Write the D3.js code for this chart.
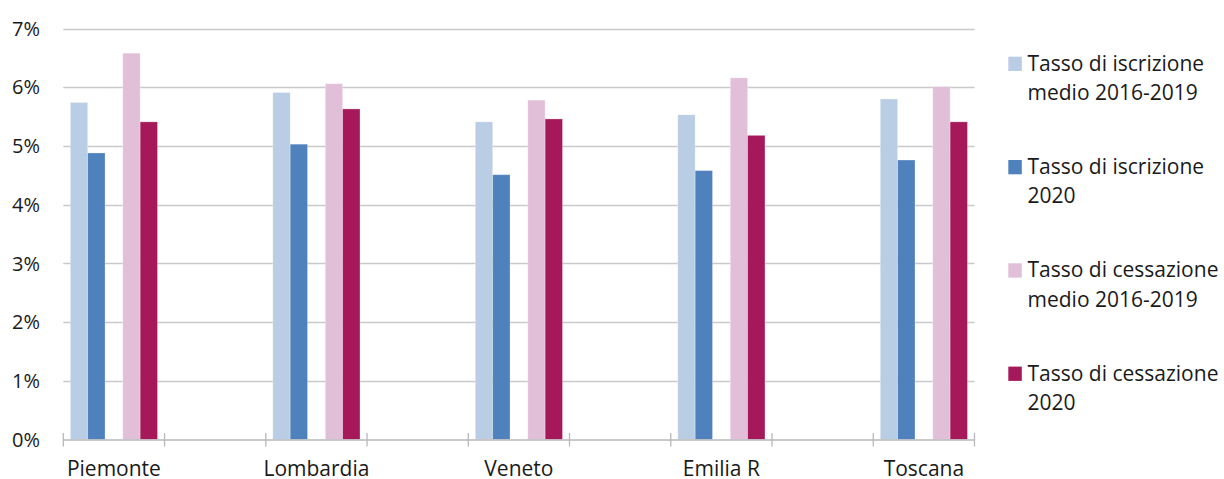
<!DOCTYPE html>
<html>
<head>
<meta charset="utf-8">
<script src="https://cdn.jsdelivr.net/npm/d3@7"></script>
<style>
  html, body { margin: 0; padding: 0; background: #fff; }
  svg { display: block; }
  text { font-family: "Open Sans", "Noto Sans", sans-serif; fill: #1a1a1a; }
</style>
</head>
<body>
<svg id="chart" width="1224" height="479"></svg>
<script>
const categories = ["Piemonte", "Lombardia", "Veneto", "Emilia R", "Toscana"];
const seriesNames = [
  ["Tasso di iscrizione", "medio 2016-2019"],
  ["Tasso di iscrizione", "2020"],
  ["Tasso di cessazione", "medio 2016-2019"],
  ["Tasso di cessazione", "2020"]
];
const iscrizioneMedio = [5.74, 5.91, 5.41, 5.53, 5.80];
const iscrizione2020  = [4.88, 5.03, 4.51, 4.58, 4.76];
const cessazioneMedio = [6.58, 6.06, 5.78, 6.16, 6.01];
const cessazione2020  = [5.41, 5.63, 5.46, 5.18, 5.41];
const yTicks = [0, 1, 2, 3, 4, 5, 6, 7];
const colors = ["#b9cde5", "#4f81bd", "#e2bfd9", "#a5195a"];

const seriesValues = [iscrizioneMedio, iscrizione2020, cessazioneMedio, cessazione2020];

const svg = d3.select("#chart");
const plotLeft = 63.3, plotRight = 974.5, plotTop = 28.5, plotBottom = 439.5;

const y = d3.scaleLinear().domain([0, 7]).range([plotBottom, plotTop]);

// 9 slots on the category axis, categories occupy every other slot
const slotKeys = d3.range(categories.length * 2 - 1);
const xSlot = d3.scaleBand().domain(slotKeys).range([plotLeft, plotRight]).padding(0);
const catSlot = (i) => i * 2;

// Two groups (iscrizione, cessazione) within a slot, two bars per group
const xGroup = d3.scaleBand().domain([0, 1]).range([0, xSlot.bandwidth()])
  .paddingInner(0.338).paddingOuter(0.134);
const xBar = d3.scaleBand().domain([0, 1]).range([0, xGroup.bandwidth()]).padding(0);

// gridlines
svg.append("g").selectAll("line").data(yTicks.filter(d => d > 0)).join("line")
  .attr("x1", plotLeft).attr("x2", plotRight)
  .attr("y1", d => Math.round(y(d)) + 0.5).attr("y2", d => Math.round(y(d)) + 0.5)
  .attr("stroke", "#c9c9c9").attr("stroke-width", 1.3);

// y labels
svg.append("g").selectAll("text").data(yTicks).join("text")
  .attr("x", 40).attr("y", d => y(d) + 7.2)
  .attr("text-anchor", "end")
  .style("font-size", "20px")
  .text(d => d + "%");

// bars
const barsG = svg.append("g");
seriesValues.forEach((vals, s) => {
  const g = Math.floor(s / 2), b = s % 2;
  barsG.append("g").selectAll("rect").data(vals).join("rect")
    .attr("x", (d, i) => xSlot(catSlot(i)) + xGroup(g) + xBar(b))
    .attr("width", xBar.bandwidth())
    .attr("y", d => y(d))
    .attr("height", d => y(0) - y(d))
    .attr("fill", colors[s])
    .attr("stroke", "rgba(255,255,255,0.35)")
    .attr("stroke-width", 0.8);
});

// x axis line
svg.append("line")
  .attr("x1", plotLeft).attr("x2", plotRight)
  .attr("y1", plotBottom + 0.5).attr("y2", plotBottom + 0.5)
  .attr("stroke", "#b8b8b8").attr("stroke-width", 1.5);

// tick marks at slot boundaries
const tickPos = slotKeys.map(k => xSlot(k)).concat([plotRight]);
svg.append("g").selectAll("line").data(tickPos).join("line")
  .attr("x1", d => d).attr("x2", d => d)
  .attr("y1", plotBottom - 6.5).attr("y2", plotBottom + 7)
  .attr("stroke", "#b8b8b8").attr("stroke-width", 1.3);

// category labels
svg.append("g").selectAll("text").data(categories).join("text")
  .attr("x", (d, i) => xSlot(catSlot(i)) + xSlot.bandwidth() / 2)
  .attr("y", 476)
  .attr("text-anchor", "middle")
  .style("font-size", "21px")
  .text(d => d);

// legend
const legend = svg.append("g");
seriesNames.forEach((lines, s) => {
  const base = 70.7 + s * 103.3;
  legend.append("rect")
    .attr("x", 1008.3).attr("y", base - 14)
    .attr("width", 13.5).attr("height", 14.3)
    .attr("fill", colors[s]);
  const t = legend.append("text").attr("x", 1027.5).attr("y", base)
    .style("font-size", "21px");
  lines.forEach((ln, k) => {
    t.append("tspan").attr("x", 1027.5).attr("y", base + k * 29.3).text(ln);
  });
});
</script>
</body>
</html>
